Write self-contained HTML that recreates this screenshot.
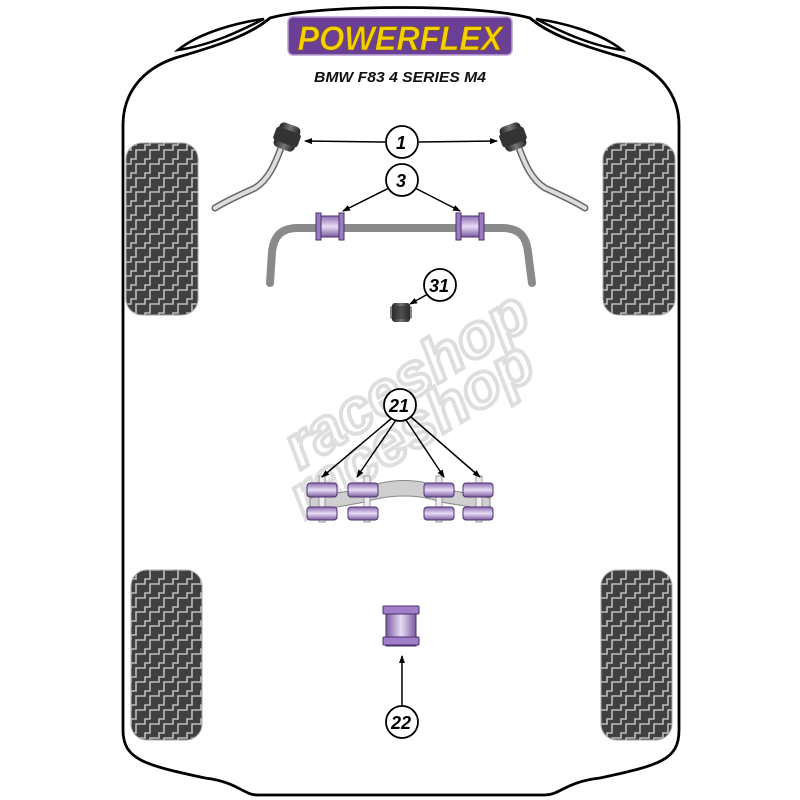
<!DOCTYPE html>
<html><head><meta charset="utf-8"><style>
html,body{margin:0;padding:0;background:#fff;width:800px;height:800px;overflow:hidden}
svg{display:block}
</style></head><body>
<svg width="800" height="800" viewBox="0 0 800 800" xmlns="http://www.w3.org/2000/svg">
<defs>
<pattern id="tread" width="14" height="14" patternUnits="userSpaceOnUse">
<rect width="14" height="14" fill="#404040"/>
<path d="M0,10 H5 V5 H10 V0 M10,14 V10 H14" fill="none" stroke="#bdbdbd" stroke-width="1.6"/>
</pattern>
<linearGradient id="purp" x1="0" y1="0" x2="1" y2="0">
<stop offset="0" stop-color="#7a5a9e"/><stop offset="0.5" stop-color="#e8dcf5"/><stop offset="1" stop-color="#7a5a9e"/>
</linearGradient>
<linearGradient id="purpv" x1="0" y1="0" x2="0" y2="1">
<stop offset="0" stop-color="#8b6bb0"/><stop offset="0.5" stop-color="#e8dcf5"/><stop offset="1" stop-color="#7a5a9e"/>
</linearGradient>
<linearGradient id="dark" x1="0" y1="0" x2="1" y2="0">
<stop offset="0" stop-color="#222"/><stop offset="0.5" stop-color="#777"/><stop offset="1" stop-color="#222"/>
</linearGradient>
<marker id="ah" markerWidth="8" markerHeight="8" refX="7" refY="4" orient="auto" markerUnits="userSpaceOnUse">
<path d="M0,1 L8,4 L0,7 Z" fill="#000"/>
</marker>
</defs>

<path d="M123,730 L123,125 C123,95 140,70 175,58 C220,45 250,35 270,18 C320,4 480,4 530,18 C550,35 580,45 625,58 C660,70 679,95 679,125 L679,730 C679,760 660,765 600,778 C565,782 560,795 545,795 L258,795 C243,795 238,782 205,778 C145,765 123,760 123,730 Z" fill="#fff" stroke="#000" stroke-width="2.8"/>
<path d="M178,50 C200,32 240,22 264,19 C242,30 212,45 178,50 Z" fill="#fff" stroke="#000" stroke-width="2.5"/>
<path d="M622,50 C600,32 560,22 536,19 C558,30 588,45 622,50 Z" fill="#fff" stroke="#000" stroke-width="2.5"/>

<rect x="126" y="143" width="72" height="172" rx="16" fill="url(#tread)" stroke="#aaa" stroke-width="1"/>
<rect x="603" y="143" width="72" height="172" rx="16" fill="url(#tread)" stroke="#aaa" stroke-width="1"/>
<rect x="131" y="570" width="71" height="170" rx="16" fill="url(#tread)" stroke="#aaa" stroke-width="1"/>
<rect x="601" y="570" width="71" height="170" rx="16" fill="url(#tread)" stroke="#aaa" stroke-width="1"/>

<rect x="288" y="17" width="224" height="38" rx="5" fill="#6b3f96" stroke="#b9a0d0" stroke-width="1.5"/>
<text x="400" y="50" text-anchor="middle" font-family="Liberation Sans, sans-serif" font-weight="bold" font-style="italic" font-size="34" fill="#f4d000" stroke="#7a5a00" stroke-width="0.6" textLength="205" lengthAdjust="spacingAndGlyphs">POWERFLEX</text>
<text x="400" y="82" text-anchor="middle" font-family="Liberation Sans, sans-serif" font-weight="bold" font-style="italic" font-size="15" fill="#111" textLength="172" lengthAdjust="spacingAndGlyphs">BMW F83 4 SERIES M4</text>

<g font-family="Liberation Sans, sans-serif" font-weight="bold" font-style="italic" font-size="62" fill="#fff" stroke="#dedede" stroke-width="4">
<text x="300" y="470" transform="rotate(-32 300 470)">raceshop</text>
<text x="305" y="520" transform="rotate(-32 305 520)">raceshop</text>
</g>

<path d="M282,145 C275,165 268,180 255,188 C240,195 228,200 215,208" fill="none" stroke="#666" stroke-width="7" stroke-linecap="round"/>
<path d="M282,145 C275,165 268,180 255,188 C240,195 228,200 215,208" fill="none" stroke="#ddd" stroke-width="4" stroke-linecap="round"/>
<path d="M518,145 C525,165 532,180 545,188 C560,195 572,200 585,208" fill="none" stroke="#666" stroke-width="7" stroke-linecap="round"/>
<path d="M518,145 C525,165 532,180 545,188 C560,195 572,200 585,208" fill="none" stroke="#ddd" stroke-width="4" stroke-linecap="round"/>
<g transform="rotate(20 287 137)"><rect x="276" y="124" width="22" height="26" rx="5" fill="url(#dark)"/><rect x="274" y="130" width="26" height="14" rx="3" fill="#333"/></g>
<g transform="rotate(-20 513 137)"><rect x="502" y="124" width="22" height="26" rx="5" fill="url(#dark)"/><rect x="500" y="130" width="26" height="14" rx="3" fill="#333"/></g>

<path d="M270,283 L272,252 C274,235 282,228 298,228 L502,228 C518,228 526,235 528,252 L532,283" fill="none" stroke="#8a8a8a" stroke-width="8" stroke-linecap="round"/>
<g stroke="#4b2f6f" stroke-width="1">
<rect x="316" y="213" width="5" height="27" fill="#9a7cc0"/><rect x="321" y="216" width="18" height="21" fill="url(#purpv)"/><rect x="339" y="213" width="5" height="27" fill="#9a7cc0"/>
<rect x="456" y="213" width="5" height="27" fill="#9a7cc0"/><rect x="461" y="216" width="18" height="21" fill="url(#purpv)"/><rect x="479" y="213" width="5" height="27" fill="#9a7cc0"/>
</g>

<rect x="392" y="303" width="18" height="19" rx="3" fill="url(#dark)"/>
<rect x="390" y="306" width="22" height="13" rx="2" fill="#333" opacity="0.6"/>

<path d="M310,498 L365,488 C390,478 420,478 440,488 L490,498 L490,510 L440,502 C420,494 390,494 365,502 L310,512 Z" fill="#cfcfcf" stroke="#888" stroke-width="1"/>
<g stroke="#4b2f6f" stroke-width="1">
<g fill="#eee" stroke="#999"><rect x="319" y="476" width="6" height="46"/><rect x="364" y="476" width="6" height="46"/><rect x="436" y="476" width="6" height="46"/><rect x="476" y="476" width="6" height="46"/></g>
<rect x="307" y="483" width="30" height="14" rx="3" fill="url(#purpv)"/><rect x="307" y="507" width="30" height="13" rx="3" fill="url(#purpv)"/>
<rect x="348" y="483" width="30" height="14" rx="3" fill="url(#purpv)"/><rect x="348" y="507" width="30" height="13" rx="3" fill="url(#purpv)"/>
<rect x="424" y="483" width="30" height="14" rx="3" fill="url(#purpv)"/><rect x="424" y="507" width="30" height="13" rx="3" fill="url(#purpv)"/>
<rect x="463" y="483" width="30" height="14" rx="3" fill="url(#purpv)"/><rect x="463" y="507" width="30" height="13" rx="3" fill="url(#purpv)"/>
</g>

<g stroke="#4b2f6f" stroke-width="1">
<rect x="386" y="606" width="30" height="40" fill="url(#purp)"/>
<rect x="383" y="606" width="36" height="8" rx="1" fill="#a07fc8"/>
<rect x="383" y="637" width="36" height="8" rx="1" fill="#a07fc8"/>
</g>

<g stroke="#000" stroke-width="1.5" fill="none" marker-end="url(#ah)">
<line x1="385" y1="142" x2="305" y2="141"/>
<line x1="419" y1="142" x2="497" y2="141"/>
<line x1="389" y1="188" x2="343" y2="211"/>
<line x1="415" y1="188" x2="460" y2="211"/>
<line x1="428" y1="294" x2="410" y2="304"/>
<line x1="392" y1="418" x2="322" y2="477"/>
<line x1="396" y1="420" x2="357" y2="477"/>
<line x1="406" y1="420" x2="444" y2="477"/>
<line x1="411" y1="417" x2="480" y2="477"/>
<line x1="402" y1="706" x2="402" y2="656"/>
</g>

<g fill="#fff" stroke="#000" stroke-width="1.8">
<circle cx="402" cy="142" r="16"/><circle cx="402" cy="180" r="16"/><circle cx="440" cy="285" r="16"/><circle cx="400" cy="405" r="16"/><circle cx="402" cy="722" r="16"/>
</g>
<g font-family="Liberation Sans, sans-serif" font-weight="bold" font-style="italic" font-size="18" text-anchor="middle" fill="#000">
<text x="401" y="149">1</text><text x="401" y="187">3</text><text x="439" y="292">31</text><text x="399" y="412">21</text><text x="401" y="729">22</text>
</g>
</svg>
</body></html>
